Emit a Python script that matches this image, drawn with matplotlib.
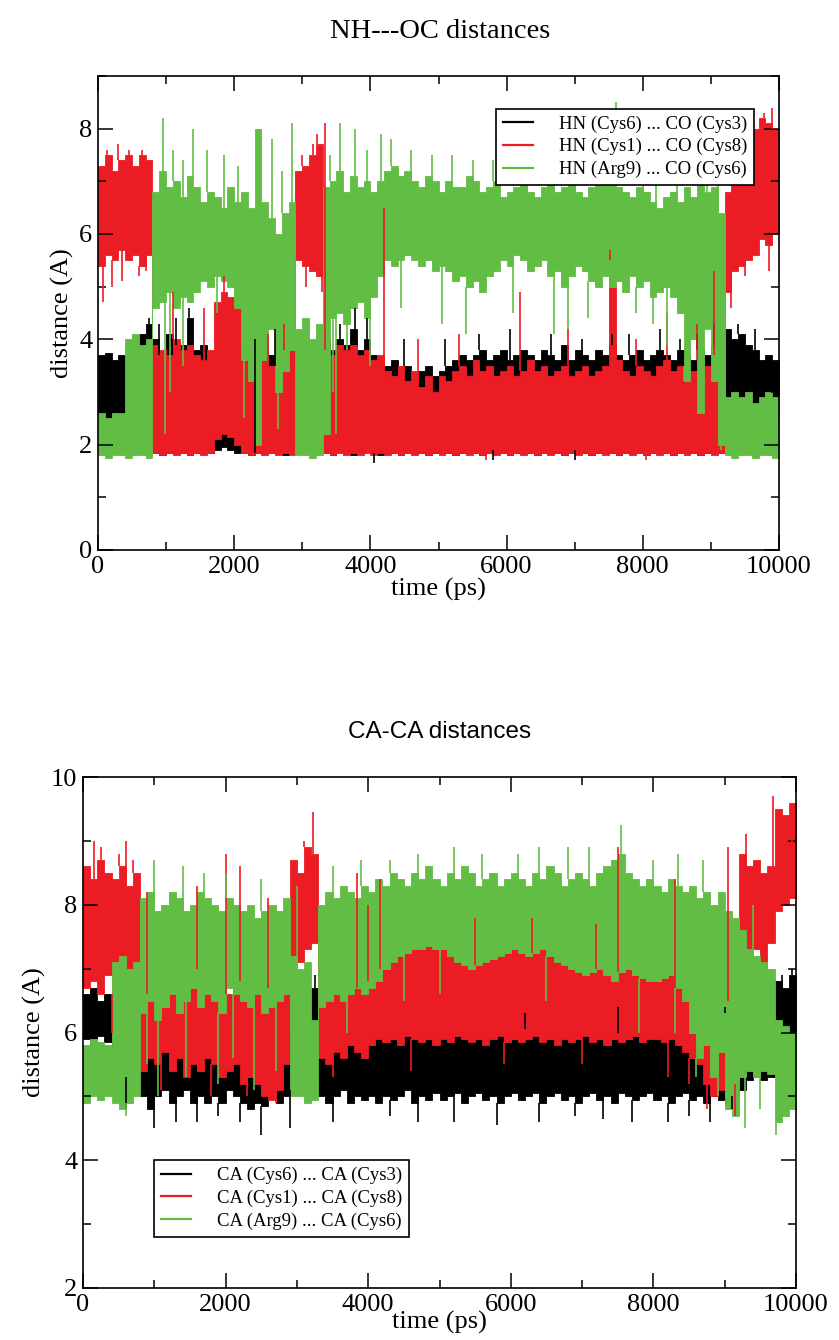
import numpy as np
import matplotlib
matplotlib.use("Agg")
import matplotlib.pyplot as plt
from matplotlib.ticker import MultipleLocator

# ---------------- data (100-ps bins, value range per bin) ----------------
time_bins = list(range(0, 10001, 100))

# NH---OC distances
nh_black_lo = [2.55, 2.5, 2.6, 2.45, 2.2, 2.2, 2.1, 2.0, 1.85, 1.8,
               1.85, 1.9, 1.85, 1.8, 1.85, 1.9, 1.85, 1.9, 1.95, 1.9,
               1.85, 1.85, 1.8, 1.85, 1.9, 1.85, 1.85, 1.8, 1.85, 1.9,
               1.85, 1.9, 1.85, 1.85, 1.8, 1.9, 1.85, 1.8, 1.85, 1.9,
               1.85, 1.8, 1.9, 1.85, 1.8, 1.85, 1.9, 1.85, 1.8, 1.85,
               1.9, 1.85, 1.8, 1.85, 1.9, 1.85, 1.8, 1.85, 1.9, 1.85,
               1.8, 1.85, 1.9, 1.85, 1.8, 1.85, 1.9, 1.85, 1.8, 1.85,
               1.9, 1.85, 1.8, 1.85, 1.9, 1.85, 1.8, 1.85, 1.9, 1.85,
               1.8, 1.85, 1.9, 1.85, 1.8, 1.85, 1.9, 1.85, 1.8, 1.85,
               1.9, 1.85, 2.4, 2.5, 2.6, 2.5, 2.6, 2.55, 2.6, 2.5]
nh_black_hi = [3.7, 3.75, 3.6, 3.7, 3.6, 3.9, 4.1, 4.3, 4.0, 3.7,
               4.1, 3.9, 3.9, 4.4, 3.8, 3.9, 3.7, 3.6, 3.8, 3.7,
               3.9, 3.9, 3.7, 4.0, 3.8, 3.7, 3.5, 4.0, 3.9, 3.9,
               4.0, 3.8, 3.9, 4.0, 3.8, 4.0, 3.9, 4.2, 3.8, 4.0,
               3.7, 3.6, 3.5, 3.6, 3.4, 3.5, 3.3, 3.4, 3.5, 3.3,
               3.4, 3.5, 3.6, 3.7, 3.6, 3.7, 3.8, 3.6, 3.7, 3.8,
               3.6, 3.7, 3.8, 3.7, 3.6, 3.8, 3.7, 3.6, 3.9, 3.6,
               3.8, 3.7, 3.6, 3.8, 3.7, 3.9, 3.7, 3.6, 3.7, 3.8,
               3.6, 3.7, 3.8, 3.7, 3.6, 3.8, 3.7, 3.6, 3.8, 3.7,
               3.9, 3.7, 4.2, 4.0, 4.1, 3.9, 3.8, 3.6, 3.7, 3.6]
nh_red_lo = [5.4, 5.6, 5.5, 5.7, 5.5, 5.6, 5.4, 5.6, 1.85, 1.8,
             1.85, 1.8, 1.85, 1.8, 1.85, 1.8, 1.85, 2.1, 2.2, 2.15,
             2.0, 1.85, 1.8, 1.85, 1.8, 1.85, 1.8, 1.85, 1.8, 5.5,
             5.4, 5.3, 5.2, 1.85, 1.8, 1.85, 1.8, 1.85, 1.8, 1.85,
             1.8, 1.85, 1.8, 1.85, 1.8, 1.85, 1.8, 1.85, 1.8, 1.85,
             1.8, 1.85, 1.8, 1.85, 1.8, 1.85, 1.8, 1.85, 1.8, 1.85,
             1.8, 1.85, 1.8, 1.85, 1.8, 1.85, 1.8, 1.85, 1.8, 1.85,
             1.8, 1.85, 1.8, 1.85, 1.8, 1.85, 1.8, 1.85, 1.8, 1.85,
             1.8, 1.85, 1.8, 1.85, 1.8, 1.85, 1.8, 1.85, 1.8, 1.85,
             1.8, 1.85, 4.9, 5.3, 5.4, 5.5, 5.6, 5.9, 5.8, 6.0]
nh_red_hi = [7.3, 7.5, 7.2, 7.4, 7.5, 7.3, 7.5, 7.4, 3.9, 3.8,
             3.7, 4.0, 3.8, 3.9, 3.7, 3.6, 3.8, 4.7, 4.9, 4.8,
             4.6, 3.8, 3.6, 3.9, 3.7, 3.5, 3.6, 3.8, 4.0, 7.2,
             7.3, 7.5, 7.7, 3.8, 3.7, 3.9, 3.8, 3.9, 3.7, 3.8,
             3.6, 3.7, 3.4, 3.3, 3.5, 3.2, 3.4, 3.1, 3.3, 3.0,
             3.3, 3.2, 3.4, 3.5, 3.3, 3.6, 3.4, 3.5, 3.3, 3.4,
             3.5, 3.3, 3.4, 3.6, 3.4, 3.5, 3.3, 3.4, 3.5, 3.3,
             3.4, 3.5, 3.3, 3.4, 3.5, 5.5, 3.6, 3.4, 3.3, 3.5,
             3.4, 3.3, 3.5, 3.6, 3.4, 3.5, 3.3, 3.4, 3.6, 3.5,
             3.7, 3.4, 6.8, 7.9, 8.0, 7.8, 8.0, 8.2, 8.1, 8.0]
nh_green_lo = [1.8, 1.75, 1.8, 1.8, 1.75, 1.8, 1.8, 1.75, 4.6, 4.7,
               4.9, 4.6, 4.8, 4.7, 4.9, 5.1, 5.0, 5.2, 5.1, 5.0,
               4.6, 3.6, 3.2, 2.0, 3.6, 4.2, 3.0, 3.4, 3.8, 1.8,
               1.8, 1.75, 1.8, 2.2, 4.4, 4.5, 4.3, 4.6, 4.7, 4.4,
               4.8, 5.2, 5.5, 5.4, 5.5, 5.6, 5.5, 5.4, 5.5, 5.3,
               5.4, 5.3, 5.1, 5.2, 5.0, 5.1, 4.9, 5.2, 5.3, 5.5,
               5.4, 5.6, 5.5, 5.3, 5.4, 5.5, 5.2, 5.3, 5.0, 5.2,
               5.4, 5.3, 5.1, 5.0, 5.2, 5.0, 5.1, 4.9, 5.2, 5.0,
               5.1, 4.8, 4.9, 5.0, 4.8, 4.5, 3.2, 4.0, 2.6, 4.2,
               3.2, 2.0, 1.8, 1.75, 1.8, 1.8, 1.75, 1.8, 1.8, 1.75]
nh_green_hi = [2.6, 2.5, 2.6, 2.6, 4.0, 4.1, 3.9, 4.0, 6.8, 7.2,
               6.9, 7.0, 6.7, 7.1, 6.9, 6.6, 6.8, 6.7, 6.5, 6.9,
               6.6, 6.8, 6.5, 8.0, 6.6, 6.3, 6.0, 6.4, 6.6, 4.2,
               4.4, 4.0, 4.3, 6.9, 7.0, 7.2, 6.8, 7.1, 6.9, 7.0,
               6.8, 7.0, 7.2, 7.3, 7.1, 7.2, 7.0, 6.9, 7.1, 7.0,
               6.8, 7.0, 6.9, 6.9, 7.1, 7.0, 6.8, 6.9, 7.0, 6.7,
               6.8, 6.9, 7.0, 6.8, 6.7, 6.9, 7.0, 6.8, 6.9, 7.0,
               6.8, 6.7, 6.9, 7.0, 7.1, 7.2, 6.9, 6.8, 6.7, 6.9,
               6.8, 6.6, 6.5, 6.7, 6.8, 6.6, 6.9, 6.7, 7.0, 6.8,
               6.9, 6.4, 2.9, 3.0, 2.9, 3.0, 2.8, 2.9, 3.0, 2.9]

nh_black_spike_t = [750, 900, 1150, 1340, 2300, 2600, 3550, 3780, 3950, 4500, 5100, 5600,
                    6050, 6650, 7100, 7550, 7800, 8250, 8550, 8800, 9050, 9400, 9650,
                    4050, 5800, 7000]
nh_black_spike_v = [4.4, 4.3, 4.4, 4.6, 4.0, 4.2, 4.3, 4.6, 4.4, 4.0, 4.0, 4.1,
                    4.2, 4.1, 4.0, 4.1, 4.1, 4.2, 4.0, 4.1, 4.3, 4.3, 4.2,
                    1.65, 1.7, 1.7]
nh_red_spike_t = [80, 200, 350, 130, 300, 450, 650, 600, 700, 1100, 1550, 1850, 2500, 2730,
                  3000, 3150, 3220, 3330, 3050, 3290, 4200, 4700, 5300, 6200, 6900, 7520,
                  7900, 8360, 8800, 9050, 9300, 9400, 9500, 9600, 9780, 9900, 9850, 5700, 8050]
nh_red_spike_v = [4.7, 5.0, 5.1, 7.6, 7.7, 7.6, 7.6, 5.2, 5.3, 4.9, 4.6, 5.2, 4.1, 4.3,
                  7.5, 7.7, 7.9, 8.1, 5.0, 4.9, 6.5, 4.0, 4.1, 4.9, 4.2, 5.7,
                  4.0, 4.5, 4.3, 5.3, 4.6, 8.3, 5.2, 8.3, 8.3, 8.4, 5.3, 1.7, 1.7]
nh_green_spike_t = [950, 1100, 1250, 1390, 1600, 1850, 2050, 2550, 2700, 2850, 3400, 3550,
                    3780, 3950, 4150, 4300, 4600, 4900, 5200, 5500, 5800, 6300, 6600, 7000,
                    7300, 7600, 8000, 8200, 8500, 8800, 8950, 9100,
                    980, 1050, 1250, 1750, 2150, 2650, 3450, 3500, 3650, 4000, 4450, 5050,
                    5400, 6100, 6700, 6900, 7200, 7900, 8150, 8350, 8600, 8850, 9150]
nh_green_spike_v = [8.2, 7.6, 7.4, 8.0, 7.6, 7.5, 7.3, 7.8, 7.2, 8.1, 7.5, 8.1,
                    8.0, 7.6, 7.9, 7.8, 7.6, 7.5, 7.5, 7.4, 7.4, 7.5, 7.4, 7.6,
                    7.5, 8.5, 7.4, 7.6, 7.4, 7.5, 7.7, 7.4,
                    2.2, 3.0, 3.5, 4.5, 2.5, 2.3, 3.0, 2.2, 3.8, 3.5, 4.6, 4.3,
                    4.1, 4.5, 4.1, 4.2, 4.4, 4.5, 4.3, 3.9, 3.5, 2.6, 1.9]

# CA-CA distances
ca_black_lo = [5.9, 5.8, 5.95, 5.85, 5.5, 5.4, 5.3, 5.4, 5.0, 4.8,
               5.0, 5.1, 4.9, 5.0, 5.1, 4.9, 5.0, 4.9, 5.0, 4.9,
               5.1, 5.0, 4.9, 4.8, 4.9, 4.85, 5.0, 4.9, 5.0, 5.1,
               5.2, 5.1, 5.3, 5.0, 4.9, 5.0, 5.1, 4.9, 5.0, 4.95,
               5.0, 4.9, 5.0, 4.95, 5.0, 5.1, 4.9, 5.0, 4.95, 5.05,
               4.95, 5.0, 5.05, 4.9, 5.0, 5.05, 4.95, 5.0, 4.9, 5.0,
               5.05, 4.95, 5.0, 5.05, 4.9, 5.0, 5.05, 4.95, 5.0, 4.9,
               5.0, 5.05, 4.95, 5.0, 4.9, 5.05, 5.0, 4.95, 5.0, 5.05,
               4.95, 5.0, 4.9, 5.0, 5.05, 4.95, 5.0, 4.9, 5.0, 4.95,
               4.9, 5.0, 5.1, 5.25, 5.3, 5.25, 5.3, 6.0, 6.1, 5.9]
ca_black_hi = [6.6, 6.7, 6.5, 6.6, 6.3, 6.2, 6.4, 6.3, 6.2, 6.0,
               6.1, 5.9, 6.0, 6.1, 5.9, 5.8, 6.0, 5.9, 6.1, 6.0,
               5.8, 5.9, 6.0, 5.9, 5.8, 5.9, 6.0, 6.1, 6.0, 5.9,
               6.0, 6.1, 6.7, 5.9, 6.0, 5.95, 6.0, 5.9, 6.05, 6.0,
               5.95, 6.0, 6.05, 5.9, 6.0, 6.05, 5.95, 6.0, 5.9, 6.05,
               6.0, 5.95, 6.05, 6.0, 5.9, 6.0, 6.05, 5.95, 6.0, 6.05,
               5.9, 6.0, 6.05, 5.95, 6.0, 5.9, 6.05, 6.0, 5.95, 6.0,
               6.05, 5.9, 6.0, 6.05, 5.95, 6.0, 5.9, 6.05, 6.0, 5.95,
               6.0, 6.05, 5.95, 6.0, 5.9, 6.05, 6.0, 6.1, 6.2, 6.1,
               6.3, 6.2, 6.0, 5.4, 5.45, 5.4, 5.45, 6.8, 6.7, 6.9]
ca_red_lo = [6.7, 6.8, 6.6, 6.9, 6.6, 6.5, 6.7, 6.4, 5.4, 5.6,
             5.5, 5.7, 5.4, 5.6, 5.3, 5.5, 5.4, 5.6, 5.5, 5.3,
             5.4, 5.5, 5.2, 5.3, 5.2, 5.0, 4.95, 5.1, 5.5, 7.2,
             7.1, 7.3, 7.4, 5.6, 5.5, 5.7, 5.6, 5.8, 5.7, 5.6,
             5.8, 5.9, 5.85, 5.9, 5.8, 5.95, 5.9, 5.85, 5.9, 5.8,
             5.9, 5.85, 5.95, 5.9, 5.85, 5.9, 5.8, 5.9, 5.95, 5.85,
             5.9, 5.85, 5.9, 5.95, 5.85, 5.9, 5.8, 5.9, 5.85, 5.9,
             5.95, 5.85, 5.9, 5.8, 5.9, 5.85, 5.9, 5.95, 5.85, 5.9,
             5.9, 5.85, 5.9, 5.8, 5.7, 5.6, 5.5, 5.2, 5.0, 5.1,
             5.0, 5.2, 7.2, 7.1, 7.3, 7.0, 7.4, 7.9, 8.0, 8.1]
ca_red_hi = [8.6, 8.4, 8.7, 8.5, 8.4, 8.6, 8.3, 8.5, 6.8, 6.6,
             6.9, 6.7, 6.8, 6.9, 6.6, 6.8, 7.0, 6.9, 6.7, 6.8,
             6.6, 6.9, 6.8, 6.7, 6.9, 6.8, 6.7, 6.9, 6.8, 8.7,
             8.5, 8.9, 8.8, 6.9, 6.7, 6.8, 6.9, 6.8, 6.7, 6.9,
             6.8, 7.0, 7.1, 7.15, 7.2, 7.25, 7.3, 7.3, 7.35, 7.3,
             7.3, 7.2, 7.1, 7.05, 7.0, 7.05, 7.1, 7.15, 7.2, 7.25,
             7.3, 7.25, 7.2, 7.25, 7.3, 7.2, 7.1, 7.05, 7.0, 6.95,
             6.9, 6.95, 7.0, 6.9, 6.8, 6.95, 7.0, 6.9, 6.85, 6.8,
             6.8, 6.85, 6.9, 6.7, 6.5, 6.6, 6.5, 6.4, 6.2, 6.3,
             6.5, 7.0, 8.8, 8.6, 8.7, 8.5, 8.6, 9.5, 9.4, 9.6]
ca_green_lo = [4.9, 5.0, 4.95, 5.0, 4.9, 4.8, 4.9, 5.0, 6.3, 6.5,
               6.2, 6.4, 6.6, 6.3, 6.5, 6.7, 6.4, 6.6, 6.5, 6.3,
               6.7, 6.6, 6.5, 6.4, 6.6, 6.3, 6.4, 6.5, 6.6, 5.0,
               5.0, 4.9, 4.95, 6.4, 6.5, 6.6, 6.5, 6.6, 6.7, 6.6,
               6.7, 6.8, 7.0, 7.1, 7.2, 7.25, 7.3, 7.3, 7.35, 7.3,
               7.3, 7.2, 7.1, 7.05, 7.0, 7.05, 7.1, 7.15, 7.2, 7.25,
               7.3, 7.25, 7.2, 7.25, 7.3, 7.2, 7.1, 7.05, 7.0, 6.95,
               6.9, 6.95, 7.0, 6.9, 6.8, 6.95, 7.0, 6.9, 6.85, 6.8,
               6.8, 6.85, 6.9, 6.7, 6.5, 6.0, 5.6, 5.8, 5.3, 5.7,
               4.8, 4.7, 5.3, 5.4, 5.3, 5.4, 5.35, 4.6, 4.7, 4.8]
ca_green_hi = [5.8, 5.9, 5.85, 5.8, 7.1, 7.2, 7.0, 7.1, 8.1, 8.2,
               7.9, 8.0, 8.2, 8.1, 7.9, 8.0, 8.2, 8.1, 8.0, 7.9,
               8.1, 8.0, 7.9, 8.0, 7.8, 7.9, 8.0, 7.9, 8.1, 7.2,
               7.0, 7.1, 6.2, 8.0, 8.2, 8.1, 8.3, 8.2, 8.1, 8.3,
               8.2, 8.4, 8.3, 8.5, 8.4, 8.3, 8.5, 8.4, 8.6, 8.4,
               8.3, 8.5, 8.4, 8.6, 8.5, 8.3, 8.4, 8.5, 8.3, 8.4,
               8.5, 8.4, 8.3, 8.5, 8.4, 8.6, 8.5, 8.3, 8.4, 8.5,
               8.4, 8.3, 8.5, 8.6, 8.7, 8.8, 8.5, 8.4, 8.3, 8.4,
               8.3, 8.2, 8.4, 8.3, 8.2, 8.3, 8.1, 8.2, 8.0, 8.2,
               7.9, 7.8, 7.6, 7.3, 7.2, 7.1, 7.0, 6.2, 6.1, 6.0]

ca_black_spike_t = [600, 1000, 1300, 1600, 1900, 2200, 2500, 2900, 3500, 4300, 4700, 5200,
                    5800, 6400, 6900, 7300, 7700, 8200, 8500, 8800, 9100,
                    3250, 9800, 9950, 9000, 6200, 7500]
ca_black_spike_v = [4.8, 4.5, 4.6, 4.6, 4.7, 4.6, 4.4, 4.5, 4.6, 4.7, 4.6, 4.6,
                    4.55, 4.6, 4.7, 4.65, 4.6, 4.6, 4.7, 4.6, 4.8,
                    6.9, 6.9, 7.0, 6.4, 6.3, 6.4]
ca_red_spike_t = [150, 250, 500, 600, 700, 900, 1600, 2000, 2200, 2600, 3100, 3230, 3840,
                  4000, 4170, 5500, 6300, 7200, 7500, 8300, 9050, 9300, 9680, 9950,
                  400, 1100, 1800, 2300, 2700, 3500, 4600, 5900, 7000, 8200, 8500, 8750, 9150]
ca_red_spike_v = [9.0, 8.9, 8.8, 9.0, 8.7, 8.2, 8.3, 8.8, 8.6, 8.1, 9.0, 9.45, 8.5,
                  8.0, 8.4, 7.8, 7.8, 7.7, 8.9, 8.4, 8.9, 9.1, 9.7, 9.5,
                  6.0, 5.1, 5.0, 5.0, 4.9, 5.3, 5.4, 5.5, 5.5, 5.3, 5.2, 4.8, 4.7]
ca_green_spike_t = [1000, 1400, 1700, 2000, 2500, 3000, 3500, 3900, 4300, 4700, 5200, 5600,
                    6100, 6400, 6800, 7100, 7550, 8000, 8350, 8700, 9400,
                    600, 900, 1050, 1450, 1900, 2100, 2400, 2700, 3700, 4500, 5000, 6500,
                    7800, 8300, 8600, 8900, 9280, 9500, 9720]
ca_green_spike_v = [8.7, 8.6, 8.5, 8.5, 8.4, 8.3, 8.6, 8.7, 8.7, 8.8, 8.9, 8.8,
                    8.8, 8.9, 8.9, 8.9, 9.25, 8.7, 8.8, 8.7, 8.0,
                    4.7, 5.5, 5.0, 5.3, 5.2, 5.6, 5.1, 5.4, 6.0, 6.5, 6.6, 6.5,
                    6.0, 6.0, 5.3, 5.0, 4.5, 4.8, 4.4]

nh_labels = ["HN (Cys6) ... CO (Cys3)", "HN (Cys1) ... CO (Cys8)", "HN (Arg9) ... CO (Cys6)"]
ca_labels = ["CA (Cys6) ... CA (Cys3)", "CA (Cys1) ... CA (Cys8)", "CA (Arg9) ... CA (Cys6)"]
series_colors = ["#000000", "#ec1c24", "#62bd45"]

# ---------------- drawing ----------------
SERIF = ["Liberation Serif", "DejaVu Serif"]
SANS = ["Liberation Sans", "DejaVu Sans"]

fig = plt.figure(figsize=(8.39, 13.40), dpi=100)
ax1 = fig.add_axes([98 / 839, 1 - 550 / 1340, 681 / 839, 474 / 1340])
ax2 = fig.add_axes([83 / 839, 1 - 1288 / 1340, 713 / 839, 511 / 1340])

t = np.array(time_bins, dtype=float)


def draw_panel(ax, bands, spikes):
    for (lo, hi), c in zip(bands, series_colors):
        lo_a = np.append(lo, lo[-1])
        hi_a = np.append(hi, hi[-1])
        ax.fill_between(t, lo_a, hi_a, step="post", color=c, lw=0.6, edgecolor=c)
    for (st, sv), (lo, hi), c in zip(spikes, bands, series_colors):
        for ts, vs in zip(st, sv):
            i = min(int(ts // 100), len(lo) - 1)
            if vs > hi[i]:
                ax.vlines(ts, hi[i], vs, color=c, lw=1.2)
            elif vs < lo[i]:
                ax.vlines(ts, vs, lo[i], color=c, lw=1.2)
            else:
                ax.vlines(ts, lo[i], vs, color=c, lw=1.2)


draw_panel(ax1,
           [(nh_black_lo, nh_black_hi), (nh_red_lo, nh_red_hi), (nh_green_lo, nh_green_hi)],
           [(nh_black_spike_t, nh_black_spike_v), (nh_red_spike_t, nh_red_spike_v),
            (nh_green_spike_t, nh_green_spike_v)])
draw_panel(ax2,
           [(ca_black_lo, ca_black_hi), (ca_red_lo, ca_red_hi), (ca_green_lo, ca_green_hi)],
           [(ca_black_spike_t, ca_black_spike_v), (ca_red_spike_t, ca_red_spike_v),
            (ca_green_spike_t, ca_green_spike_v)])

for ax, (ylo, yhi), xpad in [(ax1, (0, 9), 0), (ax2, (2, 10), -3)]:
    ax.set_xlim(0, 10000)
    ax.set_ylim(ylo, yhi)
    ax.xaxis.set_major_locator(MultipleLocator(2000))
    ax.xaxis.set_minor_locator(MultipleLocator(1000))
    ax.yaxis.set_major_locator(MultipleLocator(2))
    ax.yaxis.set_minor_locator(MultipleLocator(1))
    ax.tick_params(which="both", direction="in", top=True, right=True, width=1.1,
                   labelsize=19, pad=4)
    ax.tick_params(which="major", length=11)
    ax.tick_params(which="minor", length=5.5)
    for lab in ax.get_xticklabels() + ax.get_yticklabels():
        lab.set_family(SERIF)
    for sp in ax.spines.values():
        sp.set_linewidth(1.2)
    ax.set_xlabel("time (ps)", family=SERIF, fontsize=19, labelpad=xpad)
    ax.set_ylabel("distance (A)", family=SERIF, fontsize=19, labelpad=4)

fig.text(440 / 839, 1 - 32 / 1340, "NH---OC distances", family=SERIF, fontsize=20.5,
         ha="center", va="center")
fig.text(440 / 839, 1 - 732 / 1340, "CA-CA distances", family=SANS, fontsize=17.5,
         ha="center", va="center")

for ax, labels, anchor, loc in [(ax1, nh_labels, (9636, 8.38), "upper right"),
                                (ax2, ca_labels, (1000, 4.0), "upper left")]:
    handles = [plt.Line2D([], [], color=c, lw=1.6) for c in series_colors]
    leg = ax.legend(handles, labels, loc=loc, bbox_to_anchor=anchor,
                    bbox_transform=ax.transData, prop={"family": SERIF, "size": 13.5},
                    fancybox=False, framealpha=1, edgecolor="black", handlelength=1.6,
                    handletextpad=1.4, borderpad=0.35, labelspacing=0.3, borderaxespad=0)
    leg.get_frame().set_linewidth(1.2)

fig.savefig("out.png", dpi=100)
